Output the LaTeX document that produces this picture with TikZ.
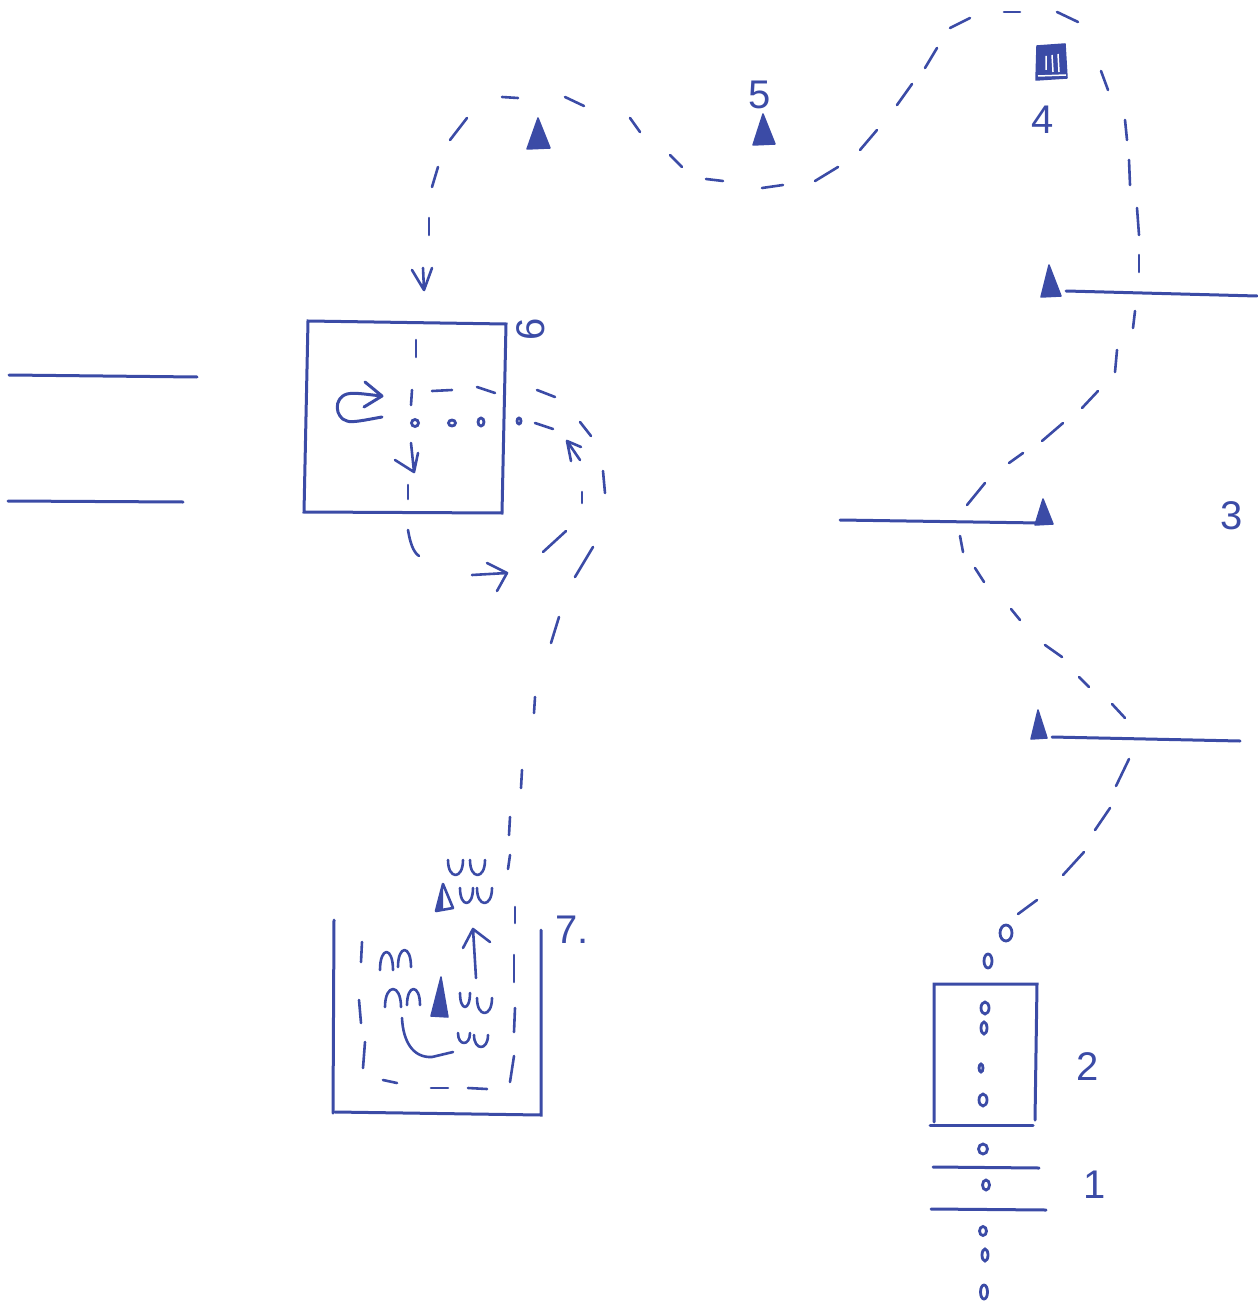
\documentclass[tikz,border=0pt]{standalone}
\usepackage{fontspec}
\setmainfont{Liberation Sans}
\definecolor{pen}{HTML}{3B4BA6}
\tikzset{
  ink/.style={draw=pen,line width=3pt,line cap=round,line join=round},
  thinink/.style={draw=pen,line width=2.6pt,line cap=round,line join=round},
  solidline/.style={draw=pen,line width=3pt,line cap=round},
  cone/.style={draw=pen,fill=pen,line width=1.5pt,line join=round},
  seed/.style={draw=pen,line width=2.8pt},
  digit/.style={text=pen,inner sep=0pt,font=\fontsize{40}{40}\selectfont}
}
\newcommand{\penloop}[4]{\draw[thinink] (#1,#3) .. controls (#1,{#3+(#4-#3)*1.33}) and (#2,{#3+(#4-#3)*1.33}) .. (#2,#3);}
\begin{document}
\begin{tikzpicture}[x=1pt,y=-1pt]
\useasboundingbox (0,0) rectangle (1257,1305);
% dashes of the route
\foreach \a/\b/\c/\d in {
 1018/914/1037/900,1063/875/1084/852,1095/830/1110/808,1116/786/1129/759,
 1125/718/1112/704,1089/687/1079/677,1062/657/1045/645,1020/620/1011/609,
 984/582/975/568,963/552/960/536,967/505/985/483,1009/463/1023/453,
 1042/441/1063/423,1082/408/1098/391,1115/372/1117/350,1133/328/1135/311,
 1139/272/1139/255,1139/235/1137/208,1130/185/1129/160,1127/140/1125/120,
 1108/90/1101/71,1078/22/1057/12,1004/12/1020/12,950/28/970/18,
 925/68/937/48,897/105/912/84,860/150/877/130,815/181/838/167,
 762/188/783/185,706/179/723/181,670/155/682/167,630/118/640/132,
 565/97/584/106,502/97/518/98,450/140/467/118,432/187/438/167,
 429/235/429/218,
 416/340/416/357,412/390/411/405,408/485/408/499,
 543/552/566/531,582/503/582/492,575/577/593/547,603/471/605/493,
 580/422/591/436,537/390/555/397,535/423/553/429,477/387/495/393,432/391/452/390,
 515/907/515/923,514/955/514/982,515/1008/514/1032,514/1056/510/1082,
 468/1088/487/1089,431/1088/448/1088,383/1080/397/1083,365/1042/363/1068,
 359/1000/361/1023,362/942/361/962,
 510/855/508/869,510/817/509/835,522/770/521/788,535/697/534/713,559/617/551/643}
 {\draw[thinink] (\a,\b) -- (\c,\d);}
\draw[thinink] (408,530) .. controls (410,542) and (413,552) .. (419,556);
% arrows on the route
\draw[thinink] (423,268) -- (424,290) (412,270) -- (424,290) -- (432,268);
\draw[thinink] (411,443) -- (414,472) (395,460) -- (414,472) -- (418,453);
\draw[thinink] (472,575) -- (507,573) (487,563) -- (507,573) -- (497,591);
\draw[thinink] (567,441) -- (571,461) (567,441) -- (581,447) (567,441) -- (580,460);
\draw[ink] (382,417) .. controls (365,420) and (352,423) .. (347,421)
  .. controls (335,418) and (333,398) .. (347,394) .. controls (355,392) and (370,395) .. (382,396)
  (365,382) -- (382,396) -- (364,407);
% lines and boxes
\draw[solidline] (9,375) -- (197,377);
\draw[solidline] (8,501) -- (183,502);
\draw[solidline] (308,321) -- (506,324) -- (502,513) -- (304,512) -- cycle;
\draw[solidline] (1066,291) -- (1257,296);
\draw[solidline] (840,520) -- (1040,523);
\draw[solidline] (1052,737) -- (1240,741);
\draw[solidline] (334,920) -- (333,1113);
\draw[solidline] (335,1112) -- (541,1115) -- (541,930);
\draw[solidline] (934,1122) -- (934,984) -- (1037,984) -- (1035,1120);
\draw[solidline] (930,1125) -- (1033,1125);
\draw[solidline] (933,1167) -- (1039,1168);
\draw[solidline] (931,1209) -- (1046,1210);
% cones
\draw[cone] (538,118) -- (527,149) -- (550,148) -- cycle;
\draw[cone] (763,114) -- (753,145) -- (775,144) -- cycle;
\draw[cone] (1049,265) -- (1041,297) -- (1061,296) -- cycle;
\draw[cone] (1043,499) -- (1035,525) -- (1053,524) -- cycle;
\draw[cone] (1038,710) -- (1031,739) -- (1047,738) -- cycle;
\draw[cone] (441,977) -- (431,1016) -- (448,1017) -- cycle;
\draw[cone,line width=2.6pt,fill=white] (443,884) -- (436,911) -- (453,908) -- cycle;
\fill[pen] (443,884) -- (436,911) -- (443,910) -- cycle;
% block 4
\draw[cone] (1037,46) -- (1065,44) -- (1067,78) -- (1036,80) -- cycle;
\draw[white,line width=1.5pt] (1046,56) -- (1046,70) (1052,55) -- (1053,72) (1058,54) -- (1059,72) (1038,76) -- (1066,75);
% cups
\penloop{448}{463}{860}{875}
\penloop{470}{485}{860}{875}
\penloop{460}{473}{888}{903}
\penloop{477}{492}{888}{903}
\penloop{460}{470}{993}{1007}
\penloop{477}{492}{998}{1013}
\penloop{458}{470}{1033}{1043}
\penloop{474}{488}{1035}{1047}
\penloop{380}{393}{970}{952}
\penloop{398}{411}{967}{950}
\penloop{385}{401}{1007}{989}
\penloop{407}{420}{1005}{989}
% arrow and curve in block 1
\draw[thinink] (476,978) -- (473,929) (463,948) -- (473,929) -- (490,942);
\draw[thinink] (402,1018) .. controls (403,1040) and (412,1058) .. (432,1057) -- (453,1052);
% seeds
\foreach \x/\y/\r/\s in {
 1006/933/6/8,988/961/4/7,985/1008/4/6,984/1028/3/6,981/1068/2/4,983/1100/4/6,
 983/1149/4.5/5,986/1185/3.5/5,983/1231/3.5/4.5,985/1255/3/6,984/1292/3.5/7,
 415/423/3.5/3.5,452/423/3.5/3,481/422/3/4,519/421/2/3}
 {\draw[seed] (\x,\y) ellipse [x radius=\r pt,y radius=\s pt];}
% labels
\node[digit] (n5) at (760,95) {5};
\node[digit] (n4) at (1043,120) {4};
\node[digit] (n3) at (1232,516) {3};
\node[digit] (n2) at (1088,1067) {2};
\node[digit] (n1) at (1095,1185) {1};
\node[digit,rotate=90] (n6) at (531,329) {6};
\node[digit] (n7) at (572,930) {7.};
\end{tikzpicture}
\end{document}
